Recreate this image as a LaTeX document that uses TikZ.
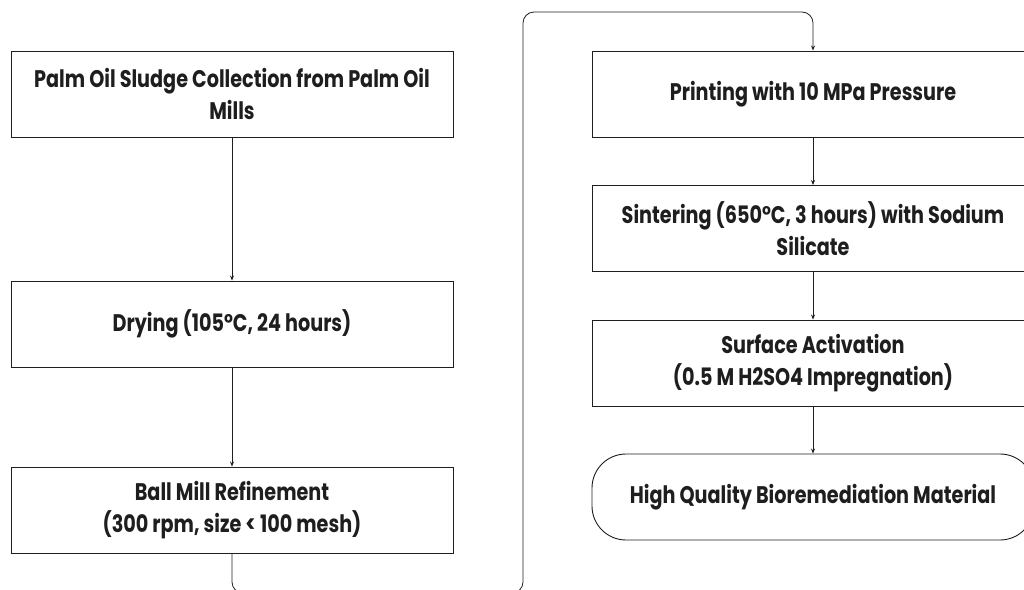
\documentclass[tikz,border=0pt]{standalone}
\usepackage{fontspec}
\setmainfont{Poppins}[FakeStretch=0.8]
\usetikzlibrary{arrows.meta}
\definecolor{ink}{HTML}{1E1E1E}
\tikzset{
  stepbox/.style={draw=ink, line width=0.9pt, rectangle, minimum width=442pt, minimum height=86pt,
    align=center, text=ink, font=\fontsize{24}{31.5}\selectfont\bfseries, inner sep=0pt},
  endbox/.style={stepbox, rounded corners=34pt},
  flow/.style={draw=ink, line width=0.8pt, -{Stealth[length=5pt,width=4pt]}},
}
\begin{document}
\begin{tikzpicture}[x=1pt,y=-1pt]
\useasboundingbox (0,0) rectangle (1024,589);
\begin{scope}
\clip (0,0) rectangle (1024,589);
\node[stepbox] (collect) at (232,94) {Palm Oil Sludge Collection from Palm Oil\\Mills};
\node[stepbox] (dry) at (232,324) {Drying (105°C, 24 hours)};
\node[stepbox] (mill) at (232,510) {Ball Mill Refinement\\(300 rpm, size < 100 mesh)};
\node[stepbox] (print) at (813,94) {Printing with 10 MPa Pressure};
\node[stepbox] (sinter) at (813,228.5) {Sintering (650°C, 3 hours) with Sodium\\Silicate};
\node[stepbox] (surf) at (813,363) {Surface Activation\\(0.5 M H2SO4 Impregnation)};
\node[endbox] (final) at (813,497) {High Quality Bioremediation Material};
\coordinate (b1) at (232,593);
\coordinate (b2) at (523,593);
\coordinate (t1) at (523,12);
\coordinate (t2) at (813,12);
\draw[flow] (collect) -- (dry);
\draw[flow] (dry) -- (mill);
\draw[flow, rounded corners=11pt] (mill.south) -- (b1) -- (b2) -- (t1) -- (t2) -- (print.north);
\draw[flow] (print) -- (sinter);
\draw[flow] (sinter) -- (surf);
\draw[flow] (surf) -- (final);
\end{scope}
\end{tikzpicture}
\end{document}
